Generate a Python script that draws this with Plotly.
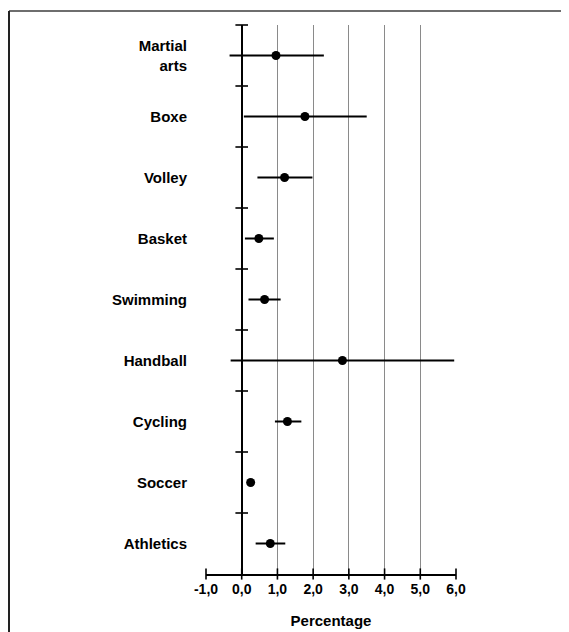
import plotly.graph_objects as go

# Data (top to bottom)
categories = ["Martial<br>arts", "Boxe", "Volley", "Basket", "Swimming",
              "Handball", "Cycling", "Soccer", "Athletics"]
estimate = [0.96, 1.77, 1.20, 0.48, 0.64, 2.82, 1.28, 0.25, 0.80]
lower = [-0.34, 0.06, 0.44, 0.09, 0.19, -0.31, 0.93, 0.18, 0.39]
upper = [2.30, 3.50, 1.98, 0.90, 1.09, 5.95, 1.67, 0.32, 1.22]
x_ticks = [-1, 0, 1, 2, 3, 4, 5, 6]
x_ticktext = ["-1,0", "0,0", "1,0", "2,0", "3,0", "4,0", "5,0", "6,0"]
grid_vals = [1, 2, 3, 4, 5]

n = len(categories)
ypos = list(range(n - 1, -1, -1))
boundaries = [p + 0.5 for p in range(n)]
err_plus = [u - e for u, e in zip(upper, estimate)]
err_minus = [e - l for e, l in zip(estimate, lower)]

FONT = "Liberation Sans, Arial, sans-serif"

fig = go.Figure()

fig.add_trace(go.Scatter(
    x=estimate, y=ypos, mode="markers",
    marker=dict(color="black", size=9),
    error_x=dict(type="data", symmetric=False, array=err_plus,
                 arrayminus=err_minus, width=0, thickness=2, color="black"),
    showlegend=False, hoverinfo="x+y",
))

# boundary ticks on the vertical axis at x=0
fig.add_trace(go.Scatter(
    x=[0] * len(boundaries), y=boundaries, mode="markers",
    marker=dict(symbol="line-ew", size=9, line=dict(color="black", width=1.6)),
    showlegend=False, hoverinfo="skip", cliponaxis=False,
))

# crossing ticks on the x axis
fig.add_trace(go.Scatter(
    x=x_ticks, y=[-0.5] * len(x_ticks), mode="markers",
    marker=dict(symbol="line-ns", size=8, line=dict(color="black", width=1.6)),
    showlegend=False, hoverinfo="skip", cliponaxis=False,
))

fig.update_layout(
    width=561, height=624,
    margin=dict(l=198, r=113, t=17, b=58, autoexpand=False),
    paper_bgcolor="white", plot_bgcolor="white",
    font=dict(family=FONT, color="black"),
    xaxis=dict(
        range=[-1, 6], tickvals=x_ticks, ticktext=x_ticktext,
        showgrid=False, ticks="", automargin=False,
        minor=dict(tickvals=grid_vals, showgrid=True, gridcolor="#8a8a8a", gridwidth=1, ticks=""),
        zeroline=True, zerolinecolor="black", zerolinewidth=2,
        showline=True, linecolor="black", linewidth=2,
        tickfont=dict(size=14, family=FONT, weight="bold"),
        ticklabelstandoff=1,
        title=dict(text="Percentage", font=dict(size=15, family=FONT, weight="bold"), standoff=20),
        fixedrange=True,
    ),
    yaxis=dict(
        range=[-0.5, n - 0.5], tickvals=ypos, ticktext=categories,
        showgrid=False, zeroline=False, showline=False, ticks="", automargin=False,
        tickfont=dict(size=15, family=FONT, weight="bold"),
        ticklabelstandoff=18,
        fixedrange=True,
    ),
    shapes=[
        dict(type="line", xref="paper", yref="paper", x0=-0.788, x1=1.46, y0=1.0255, y1=1.0255,
             line=dict(color="#6e6e6e", width=2)),
        dict(type="line", xref="paper", yref="paper", x0=-0.788, x1=-0.788, y0=1.0255, y1=-0.11,
             line=dict(color="#222222", width=2)),
    ],
)

fig.write_html("out.html")
